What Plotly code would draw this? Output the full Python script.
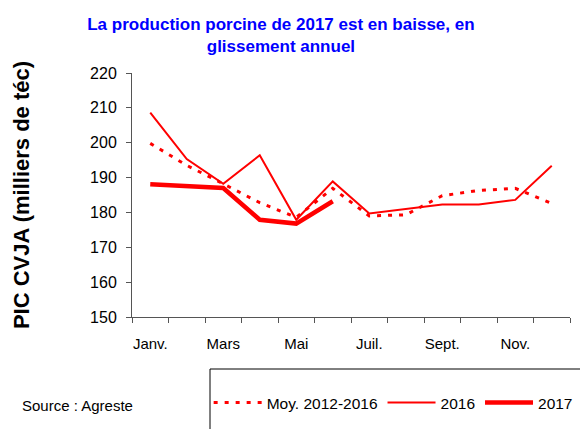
import plotly.graph_objects as go

months = ["Janv.", "Févr.", "Mars", "Avr.", "Mai", "Juin", "Juil.", "Août", "Sept.", "Oct.", "Nov.", "Déc."]
month_labels = ["Janv.", "", "Mars", "", "Mai", "", "Juil.", "", "Sept.", "", "Nov.", ""]
moy_2012_2016 = [199.8, 193.5, 188.2, 182.8, 178.6, 186.9, 179.0, 179.3, 184.8, 186.3, 186.9, 182.6]
y2016 = [208.6, 195.3, 188.2, 196.4, 177.9, 188.9, 179.7, 181.0, 182.3, 182.3, 183.6, 193.4]
y2017 = [188.1, 187.7, 187.0, 177.9, 176.8, 183.2]
y_ticks = [150, 160, 170, 180, 190, 200, 210, 220]

RED = "#FF0000"
FONT = "Liberation Sans, Arial, sans-serif"

# page has an 8px body margin: figure fills the rest of the 588x429 window
W, H = 580, 421

fig = go.Figure()
fig.add_trace(go.Scatter(x=months, y=moy_2012_2016, mode="lines", name="Moy. 2012-2016",
                         line=dict(color=RED, width=3, dash="4px,7px")))
fig.add_trace(go.Scatter(x=months, y=y2016, mode="lines", name="2016",
                         line=dict(color=RED, width=2)))
fig.add_trace(go.Scatter(x=months[:len(y2017)], y=y2017, mode="lines", name="2017",
                         line=dict(color=RED, width=4.5)))

fig.update_layout(
    width=W, height=H,
    margin=dict(l=124, r=18, t=65, b=112, autoexpand=False),
    paper_bgcolor="white", plot_bgcolor="white",
    font=dict(family=FONT, color="black", size=15),
    title=dict(text="<b>La production porcine de 2017 est en baisse, en<br>glissement annuel</b>",
               font=dict(family=FONT, size=17, color="#0000FF"),
               xref="paper", x=0.340, xanchor="center",
               yref="container", y=1 - 21.5 / H, yanchor="middle"),
    showlegend=True,
    legend=dict(orientation="h", x=0.175, xanchor="left", y=(317 - 403) / 244, yanchor="middle",
                font=dict(family=FONT, size=15.5, color="black"),
                bgcolor="rgba(0,0,0,0)", borderwidth=0, itemwidth=48,
                tracegroupgap=0),
    shapes=[dict(type="rect", xref="paper", yref="paper",
                 x0=(210 - 132) / 438, x1=1.2, y0=(317 - 369) / 244, y1=(317 - 445) / 244,
                 line=dict(color="black", width=1), fillcolor="rgba(0,0,0,0)", layer="below")],
    annotations=[dict(text="Source : Agreste", xref="paper", yref="paper",
                      x=(20 - 132) / 438, xanchor="left", y=(317 - 405) / 244, yanchor="middle",
                      showarrow=False, font=dict(family=FONT, size=15, color="black"))],
)

fig.update_xaxes(type="category", categoryorder="array", categoryarray=months,
                 range=[-0.5, len(months) - 0.5],
                 tickmode="array", tickvals=months, ticktext=month_labels, tickangle=0,
                 tickson="boundaries", ticks="outside", ticklen=5, tickcolor="#555",
                 showline=True, linecolor="#555", linewidth=1, showgrid=False, zeroline=False,
                 automargin=False, ticklabelstandoff=13, tickfont=dict(size=15))
fig.update_yaxes(range=[150, 220], tickmode="array", tickvals=y_ticks,
                 ticks="outside", ticklen=5, tickcolor="#555",
                 showline=True, linecolor="#555", linewidth=1, showgrid=False, zeroline=False,
                 automargin=False, ticklabelstandoff=6, tickfont=dict(size=16),
                 title=dict(text="<b>PIC CVJA (milliers de téc)</b>", standoff=54,
                            font=dict(family=FONT, size=22, color="black")))

fig.write_html("out.html")
